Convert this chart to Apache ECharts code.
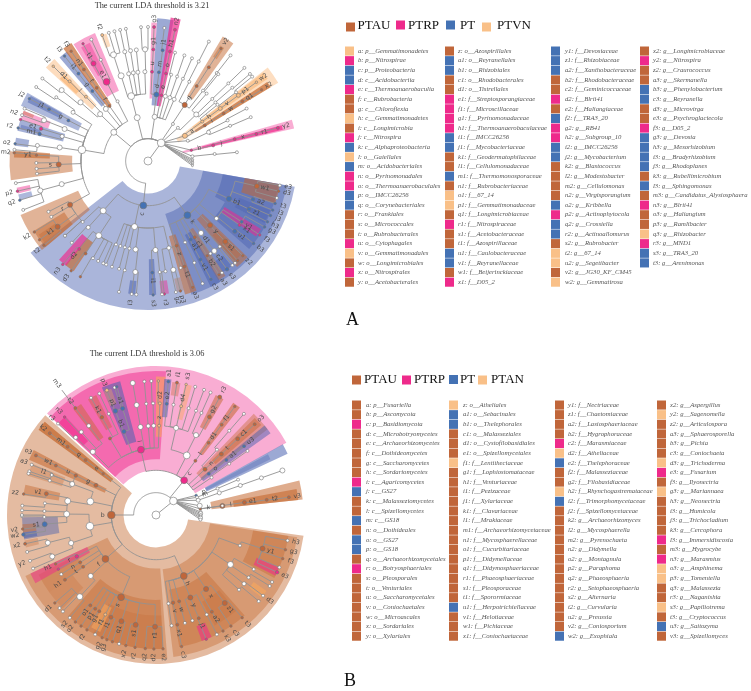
<!DOCTYPE html>
<html><head><meta charset="utf-8">
<style>html,body{margin:0;padding:0;background:#fff}#c{width:751px;height:691px}</style>
<script src="https://cdn.jsdelivr.net/npm/echarts@6/dist/echarts.min.js"></script>
</head><body><div id="c"></div>
<script>
const palette={a:'#C0663A',r:'#EE2A8B',b:'#4472B4',n:'#F9C088',w:'#ffffff'};
const shadePalette={a:'#C4682F',r:'#F0288C',b:'#4A62B0',n:'#F9A85C'};

function shift(n,d){return [n[0]+d,n[1],n[2],n[3],(n[4]||[]).map(k=>shift(k,d))];}

// each clade: [angle (deg, clockwise from top), colour key, node size, letter, children]
const phylumC_A=[186,'b',8,'c',[
 [144,'b',8,'k',[
  [115,'b',6,'b1',[
   [103,'a',5,'w1',[[100.5,'w',3,'e3'],[103,'a',2.5,'d3'],[106,'w',3,'']]],
   [110,'b',3.5,'a2',[[108.5,'b',2.5,'t3'],[111.5,'b',2.5,'i3']]],
   [115.5,'b',3.5,'z1',[[114,'b',2.5,'j3'],[117,'b',2.5,'h3']]]]],
  [130,'w',4,'',[
   [123,'b',3,'y1',[[119.5,'b',2.5,'g3']]],
   [125,'r',3,'x1',[[123.5,'r',2.5,'f3']]],
   [129,'b',4,'u1',[[128,'b',2.5,'b3']]]]],
  [136,'a',5,'y',[
   [136.2,'a',5,'s1',[[135,'a',2.5,'z2'],[138,'a',2.5,'']]],
   [140,'w',3,'',[[139.5,'w',3,'']]]]],
  [143.6,'w',6,'d1',[
   [143.6,'w',6,'c2',[[141,'w',3,''],[143.9,'b',3.5,'s3']]],
   [146,'w',3,'',[[146.5,'w',3,'']]]]],
  [148.5,'a',3,'c1',[[148,'a',2.5,'b2',[[148,'a',2.5,'a3']]]]],
  [151.5,'b',3,'a1',[[152,'b',3,'v1',[[152,'b',2.5,'c3']]]]],
  [155.5,'w',3,'',[[155.5,'w',3,'',[[156,'w',3,'']]]]],
  [161.3,'a',3,'z',[[161,'a',3,'t1',[[160.5,'a',2.5,'a3']]]]]]],
 [191.6,'w',7,'',[
  [166.5,'w',4,'',[[166.9,'w',5,'',[[166,'a',2.5,'p3'],[168,'w',3,'g2']]],[163,'w',3,''],[171,'w',3,'',[[173,'r',2.5,'r3']]]]],
  [175.2,'w',6,'',[[177.8,'b',3,'i1',[[177.8,'b',2.5,'s3']]],[174,'w',3,'',[[174,'w',3,'']]]]],
  [188,'w',5,'',[[186.5,'w',5,'',[[187,'w',3,'l3'],[185,'w',3,'']]]]],
  [192,'w',3,'',[[192,'w',3,'',[[192.5,'w',3,'']]]]],
  [195,'w',3,'',[[195,'w',3,'']]],
  [198,'w',3,'',[[198.8,'w',3,'']]],
  [201,'w',3,'',[[202,'w',3,'']]]]],
 [222,'w',7,'',[
  [213.4,'w',7,'',[[203.6,'w',3,''],[206.5,'w',3,''],[209.5,'w',3,'',[[210.3,'a',2.5,'']]],[214,'a',3,'',[[215,'a',2.5,'d3']]],[218,'r',3,'d2',[[219.5,'r',2.5,'n3']]]]],
  [222,'w',4,'',[[223,'w',3,'']]],
  [227,'w',3,'',[[228,'w',3,'']]]]]]];

const tailA=[
 [34,'w',3,'',[[33.2,'a',6,'g',[[33,'a',3,'',[[33,'a',3,'',[[33,'a',2.5,'v2']]]]],[27.5,'w',3,'',[[27,'w',3,'',[[27,'w',3,'']]]]],[38,'w',3,'',[[38,'w',3,'']]]]]]],
 [42,'w',3,'',[[46,'w',5,'',[[41,'w',3,'',[[39,'w',3,'',[[38,'w',3,'']]]]],[46,'w',3,'',[[46,'w',3,'',[[46,'w',3,'']]]]],[49,'w',3,'',[[49,'w',3,'',[[49.5,'w',3,'']]]]]]]]],
 [55.7,'n',5,'a',[
  [54,'n',3,'h',[[54,'n',4,'v',[[54,'n',4,'p1',[[54,'n',2.5,'w2']]]]],[51,'w',3,'',[[52,'w',3,'',[[51,'w',3,'']]]]]]],
  [57.9,'a',3,'i',[[57.8,'a',3,'w',[[57.7,'a',3,'q1',[[57.9,'a',2.5,'x2']]]]]]]]],
 [63,'w',3,'',[[64.6,'w',4,'',[[63,'w',3,'',[[62,'w',3,'']]],[66.8,'w',3,'',[[66.9,'w',3,'']]]]]]],
 [76,'r',2.5,'b',[[76.5,'r',3,'j',[[75.8,'r',3,'x',[[76,'r',3,'r1',[[75.7,'r',3,'y2']]]]]]]]],
 [84,'w',3,'',[[84,'w',3,'',[[84.4,'w',3,'']]]]],
 [88,'w',2,''],[90,'w',2,''],[92,'w',2,''],[94,'w',2,''],[96,'w',2,'']];

const phylaA=[phylumC_A,
 [310,'w',7,'',[
  [279.6,'w',9,'',[
   [240.7,'a',6,'r',[[243,'w',3,''],[240,'w',3,''],[234,'a',5,'k1',[[238,'a',2.5,'k2'],[234,'a',2.5,''],[231,'a',2.5,'t2']]],[228,'w',3,'']]],
   [255,'w',5,'',[[254.7,'w',6,'',[[260.5,'w',3,''],[257,'r',2.5,'p2'],[253,'b',2.5,'q2'],[248.6,'w',3,'']]]]],
   [267.8,'a',6,'s',[[273,'a',2.5,'y1',[[273.5,'a',2.5,'m2']]],[269,'w',3,''],[266,'w',3,''],[263.5,'w',3,'']]],
   [278.7,'w',5,'',[[278,'w',4,'',[[277.4,'b',2.5,'o2'],[274.8,'w',3,'']]]]],
   [286,'w',4,'',[[284,'b',3.5,'m1',[[284.3,'b',2.5,'r2']]],[286.8,'r',3.5,'e1',[[288,'r',2.5,'']]]]],
   [291,'w',5,'',[[291.4,'w',5,'',[[290,'w',3,'n2'],[293,'w',3,'']]]]],
   [297,'b',3,'g',[[297.6,'b',3,'j1',[[297.7,'b',2.5,'j2']]]]],
   [303,'w',4,'',[[304.8,'w',3,'',[[303.5,'w',3,'']]]]]]],
  [314.4,'w',6,'',[
   [311,'w',6,'',[[309.4,'w',5,'',[[308,'w',3,'']]]]],
   [316,'n',3,'l',[[315.5,'n',3,'d1',[[315,'n',2.5,'t2']]]]]]],
  [321,'w',5,'',[[321.5,'b',3,'g',[[321.5,'b',3,'i1',[[321.5,'b',2.5,'l3']]]]]]],
  [325,'a',3,'f',[[325,'a',3,'t',[[325,'a',3,'n1',[[325,'a',2.5,'f3']]]]]]],
  [333,'w',3,'',[[332.4,'r',8,'e1',[[330.8,'r',5,'t1',[[331,'r',2.5,'']]],[335,'w',3,'',[[335,'w',3,'']]]]]]]]],
 [346,'w',7,'',[
  [345.5,'w',8,'',[
   [342.5,'w',7,'',[[342,'w',7,'',[[340,'n',3,'f2'],[343,'w',3,''],[345.5,'w',3,'']]]]],
   [347.5,'w',4,'',[[348,'w',4,'',[[348,'w',3,'']]]]],
   [350.5,'w',4,'',[[351,'w',4,'',[[350.5,'w',3,'']]]]],
   [353.5,'w',4,'',[[354,'w',4,'']]],
   [358,'w',4,'',[[358.5,'w',6,'',[[357,'w',3,''],[360,'w',3,'']]]]]]]]],
 [368.6,'w',6,'',[
  [367.2,'b',5,'d',[
   [362.6,'r',3,'u',[[362.7,'r',3,'g1',[[362.6,'r',3,'g3']]]]],
   [367,'b',3,'m',[[367.5,'b',3,'j1',[[367,'w',3,'']]]]]]],
  [371.6,'r',3,'e',[[371.6,'r',3,'o',[[371.3,'r',3,'h1',[[371.6,'r',3,'n2']]]]]]],
  [375,'w',4,'',[[375,'w',3,'',[[374,'w',3,'']]]]],
  [379,'w',4,'',[[379,'w',3,'',[[379,'w',3,'']]]]],
  [383,'w',4,'',[[383,'w',3,'',[[383.2,'w',3,'']]]]]]]];
const kingdomA=[396,'w',9,'',phylaA.concat(tailA.map(t=>shift(t,360)))];

// background shading: [start, end, inner level, outer level, colour key, opacity]
const shadesA=[
 [100,232,1.45,6.67,'b',.47],[100,162,2.5,6.3,'b',.47],[100,118,3.4,5.95,'b',.47],[100,108.5,4.4,6,'a',.55],[112,118,4.4,5.9,'b',.35],
 [118,131,3.9,6,'b',.47],[121,125,4,5.9,'r',.55],[134,140,3.4,6.2,'a',.5],[135,139,4.4,5.9,'a',.35],[141.5,146,5.4,6,'b',.5],
 [146,149.5,3.6,6.2,'a',.45],[149,153.5,3.7,6.3,'b',.5],[159.5,164.5,3.5,6.2,'a',.55],[164.5,167.5,5.4,6,'a',.3],[171,174.5,5.4,6,'r',.45],
 [176.5,179.5,4.4,6,'b',.55],[185.5,188.5,5.4,6,'b',.55],[214,218.5,4.4,5.95,'a',.65],[218,222,4.4,5.95,'r',.65],
 [230,247,3.4,6.2,'a',.5],[230,238.5,4.4,6,'a',.5],[232,236,5,5.9,'a',.35],[253,255.5,5.4,6,'b',.45],[256,258.5,5.4,6,'r',.45],
 [262,274,3.4,6.2,'a',.5],[271.5,274.5,4.4,6,'a',.6],[276.5,280,5.4,6,'b',.5],[283,288,3.9,6,'b',.5],[284,286,5,5.9,'b',.4],[288,292,4.7,6,'r',.4],[290.5,292,5.5,6,'a',.4],
 [293.5,299.5,3.4,6.2,'b',.45],[296,299,4.4,6,'b',.5],[312.5,317.5,3.4,6.2,'n',.4],[313,316,4.4,5.4,'n',.5],[319.5,323.5,3.2,6.1,'b',.55],[323,327,3,6.3,'a',.7],
 [327.5,337.5,3.4,6.2,'r',.42],[329.5,333.8,4.4,5.9,'r',.4],[339.4,341.9,5.4,6,'n',.4],[361.4,363.7,2.8,6.2,'r',.4],[363.7,370.3,2.5,6.4,'b',.55],[369,373,2.5,6.5,'r',.7],
 [391,396,3.4,6.5,'a',.5],[392,394,5.5,6.1,'a',.4],[412,419,1.6,6.8,'n',.38],[412.5,415.5,2.5,6.5,'n',.45],[416.5,419,2.5,6.4,'a',.7],[434,437.5,1.6,6.7,'r',.38],[435,437,2.5,6.2,'r',.7]];

const phylumB_B=[270,'a',9,'b',[
 [308,'a',2.5,'e',[[308,'a',3,'q',[[307.7,'a',3,'m1',[[307.6,'a',3,'k2']]]]]]],
 [296.3,'a',4,'g',[[296.2,'a',3.5,'u',[[296.3,'a',3,'w1',[[296.4,'a',3,'o3']]],[291,'w',3,'',[[289,'w',3,'']]]]]]],
 [281.6,'w',8,'',[
  [290.3,'w',5,'',[[291,'w',3,'l1',[[292,'w',3,'a3']]],[288,'w',3,'',[[288,'w',3,'']]]]],
  [279,'w',7,'',[[281,'a',4,'v1',[[279,'a',2.5,'z2']]],[276,'w',3,'',[[274,'w',3,'']]],[272,'w',3,'',[[272,'w',3,'']]]]]]],
 [260.4,'w',9,'',[
  [270.6,'w',7,'',[[265.3,'b',5,'s1',[[269.5,'w',3,''],[264,'a',2.5,'v2'],[261.6,'b',3.5,'w2']]],[269,'w',3,'',[[270,'w',3,'']]]]],
  [251.7,'w',6,'',[[255.6,'w',5,'',[[257.6,'a',3,'x2'],[254,'w',3,'']]],[248.2,'w',5,'',[[250,'w',3,'y2'],[246.5,'w',3,'']]]]]]],
 [229,'a',8,'f',[
  [242.4,'r',3.5,'r',[[244,'a',2.5,'h1'],[241,'r',2.5,'']]],
  [238,'a',3,'n',[[238,'w',3,'']]],
  [234.6,'a',3,'t',[[234.6,'a',3,'h1']]],
  [227,'w',6,'',[[223,'w',7,'',[[229,'a',2.5,'d1'],[226,'w',3,''],[224,'w',3,''],[220,'w',3,'s2']]]]],
  [203,'a',8,'s',[
   [216,'a',3,'o1',[[217,'a',2.5,'o2']]],[213,'a',3,'p1',[[214,'a',2.5,'']]],[210.5,'a',3,'g1',[[211,'a',2.5,'f2']]],
   [207,'n',3,'f1',[[207,'w',3,'']]],[203.8,'a',4,'l1',[[203.7,'a',2.5,'g2'],[201.5,'a',2.5,'g3']]],
   [198,'a',5,'q1',[[196,'w',3,''],[199,'a',2.5,'']]],[190.5,'a',5,'s1',[[193,'a',2.5,'x2'],[189,'a',2.5,'r2']]],
   [180.5,'a',5,'r1',[[184.6,'a',2.5,'q2'],[180.9,'a',2.5,'d2'],[177,'a',2.5,'e2']]]]]]],
 [155.5,'a',8,'h',[
  [172,'w',3,'',[[172,'w',3,'']]],
  [169,'a',3.5,'v',[[169,'a',3,'x1',[[169,'a',2.5,'c3']]]]],
  [165,'a',3,'w',[[165,'w',3,'']]],
  [157.4,'a',5,'y',[[161,'w',3,''],[157.5,'a',3,'j1',[[158,'r',2.5,'']]],[153,'w',3,'',[[153,'w',3,'']]]]],
  [145.9,'a',6,'x',[[150,'a',3,'a2',[[150,'a',2.5,'k3']]],[142,'a',5,'z1',[[146,'a',2.5,'c3'],[140,'a',2.5,'t3']]]]],
  [123.6,'w',7,'',[[132,'w',3,'',[[130,'w',3,'']]],[128,'w',4,'',[[127,'w',3,'d3']]],[124,'w',3,'',[[122,'w',3,'']]],[119,'w',3,'',[[120,'w',3,'']]]]],
  [110,'w',3,'',[[107.5,'a',5,'y1',[[101,'w',3,'h3'],[105,'a',2.5,'g3'],[109,'a',2.5,'f3'],[113,'w',3,''],[115.3,'r',3.5,'e3']]]]]]]]];
const phylumC_B=[39,'r',8,'c',[
 [-13,'r',8,'i',[
  [-45,'w',6,'',[[-46,'w',4,'',[[-47,'w',3,'r3']]],[-42,'w',4,'',[[-43,'r',2.5,'n3']]],[-37,'w',4,'',[[-37,'a',3,'t2',[[-37,'a',2.5,'m3']]]]]]],
  [-31,'a',3,'',[[-29,'a',3.5,'k1',[[-29,'w',3,'']]],[-25,'w',3,'',[[-25,'w',3,'']]]]],
  [-21,'b',4,'b1',[[-21.3,'b',4.5,'p1',[[-21.5,'n',3.5,'p3'],[-18,'w',3,'']]],[-17.4,'b',4,'a1',[[-17,'b',2.5,'']]]]],
  [-10,'w',5,'',[[-10,'w',5,'',[[-10,'w',5,'']]]]],
  [-5,'w',4,'',[[-5,'w',3,'',[[-5,'w',3,'']]]]],
  [-1.5,'w',4,'',[[-1.5,'w',3,'',[[-2,'w',3,'']]]]],
  [2,'n',3,'z',[[2,'n',3,'d2',[[1,'n',2.5,'']]]]]]],
 [27.3,'w',8,'',[
  [13,'w',6,'',[[5.5,'b',3,'e2',[[5.3,'b',3,'a1']]],[9,'w',3,'',[[9,'a',3,'i1']]],[13,'n',3,'d4',[[13,'n',2.5,'s3']]],[17,'w',3,'',[[17,'w',3,'']]],[21,'w',3,'',[[21,'w',3,'']]]]],
  [26.6,'w',6,'',[[24,'w',3,'',[[24,'w',3,'']]],[28.6,'a',4,'g2',[[28.4,'a',4,'r3']]]]]]],
 [36,'a',3,'l',[[36,'a',3,'d1',[[36,'a',3,'f1',[[36,'a',2.5,'']]]]]]],
 [47,'a',4,'n',[[47,'a',4,'t',[[47,'a',4,'c1',[[47.4,'a',3,'o3']]]]],[43,'w',3,'',[[41,'w',3,'',[[41,'w',3,'']]]]]]],
 [52,'b',3,'o',[[52,'b',3,'a1',[[52,'b',3,'u3']]]]],
 [56,'w',3,'',[[55,'w',3,'',[[55,'w',3,'']]]]]]];
const tailB=[
 [64,'b',2.5,'p'],
 [66.7,'w',3,'m',[[66.7,'w',3,'',[[66.7,'w',3,'']]]]],
 [70.7,'w',4,'',[[70.7,'w',4,'',[[70.7,'w',4,'',[[70.6,'w',4,'',[[70.6,'w',5,'']]]]]]]]],
 [82.2,'a',2.5,'k',[[82.2,'a',5,'l',[[81.9,'a',4,'e1',[[82.2,'a',3,'t2',[[82.4,'a',3,'v3']]]]]]]]],
 [78,'w',5,'',[[82,'w',3,'']]],[86,'w',3,''],[88,'w',4,''],[90,'w',3,''],[92,'w',3,''],[94,'w',4,''],[96,'w',3,'']];
const kingdomB=[411,'w',9,'',[phylumB_B,shift(phylumC_B,360)].concat(tailB.map(t=>shift(t,360)))];

const shadesB=[
 [98,312,1.45,6.67,'a',.45],[313,421,2,6.67,'r',.38],[313,364,2.5,6.45,'r',.5],[420.8,425,2.5,6.5,'b',.55],[421.5,424,2.5,5.7,'b',.35],
 [436.5,444,2.5,6.6,'a',.55],[439.5,444,3.5,6.4,'a',.6],
 [99,173,2.45,6.4,'a',.4],[138.6,170,3.4,6,'a',.4],[99,118,4.4,6,'a',.4],[113,117,4.9,6,'r',.55],[124.5,128,5.3,6,'n',.6],[155.5,160,5.3,6,'r',.55],[140,152,4.4,5.6,'a',.25],
 [175.5,245,2.4,6.45,'a',.4],[177,221,3.8,6,'a',.4],[177,208,4.5,6,'a',.25],[205.5,210,4.6,5.8,'n',.55],[225,234,4.6,5.9,'a',.25],[234,243,4,5.9,'a',.3],[240.5,245,3.4,6.2,'r',.5],
 [293.5,298,2.5,6.2,'a',.55],[287,292.5,4.4,6,'a',.3],[278.5,283,4.4,6,'a',.45],[259.5,269,4.4,6,'b',.45],[262.5,266,5.4,6,'a',.45],[260,262.5,5.4,6,'b',.55],[256,259,5.4,6,'a',.3],[306,310,2.5,6.5,'a',.75],
 [313.5,317.5,4.5,6,'r',.6],[322,326,4.2,6,'a',.45],[329.5,333.5,4.4,6,'a',.4],[337,345,3.4,6.2,'b',.55],[337,340.5,5.3,6,'n',.35],[360,364,3.5,6.2,'n',.6],
 [363.5,366.5,4.4,6.1,'b',.55],[367,370.5,5.4,6,'a',.35],[372.5,375.5,4.4,6,'n',.45],[386.5,390.2,4.4,6,'a',.5],[394.5,398,3.4,6.1,'a',.55],[404,412.5,2.6,6.3,'a',.4],[405.5,409.5,3.5,6.2,'a',.45],[410.5,414.5,2.6,6.3,'b',.5]];

const legendA=[
 ['n a: p__Gemmatimonadetes','r b: p__Nitrospirae','b c: p__Proteobacteria','b d: c__Acidobacteriia','r e: c__Thermoanaerobaculia','a f: c__Rubrobacteria','a g: c__Chloroflexia','n h: c__Gemmatimonadetes','a i: c__Longimicrobia','r j: c__Nitrospira','b k: c__Alphaproteobacteria','n l: o__Gaiellales','b m: o__Acidobacteriales','r n: o__Pyrinomonadales','r o: o__Thermoanaerobaculales','b p: o__IMCC26256','b q: o__Corynebacteriales','a r: o__Frankiales','a s: o__Micrococcales','a t: o__Rubrobacterales','r u: o__Cytophagales','n v: o__Gemmatimonadales','a w: o__Longimicrobiales','r x: o__Nitrospirales','a y: o__Acetobacterales'],
 ['a z: o__Azospirillales','b a1: o__Reyranellales','b b1: o__Rhizobiales','a c1: o__Rhodobacterales','a d1: o__Tistrellales','r e1: f__Streptosporangiaceae','r f1: f__Microscillaceae','r g1: f__Pyrinomonadaceae','r h1: f__Thermoanaerobaculaceae','b i1: f__IMCC26256','b j1: f__Mycobacteriaceae','a k1: f__Geodermatophilaceae','a l1: f__Cellulomonadaceae','b m1: f__Thermomonosporaceae','a n1: f__Rubrobacteriaceae','n o1: f__67_14','n p1: f__Gemmatimonadaceae','a q1: f__Longimicrobiaceae','r r1: f__Nitrospiraceae','a s1: f__Acetobacteraceae','a t1: f__Azospirillaceae','b u1: f__Caulobacteraceae','b v1: f__Reyranellaceae','a w1: f__Beijerinckiaceae','r x1: f__D05_2'],
 ['b y1: f__Devosiaceae','b z1: f__Rhizobiaceae','b a2: f__Xanthobacteraceae','a b2: f__Rhodobacteraceae','a c2: f__Geminicoccaceae','r d2: f__Blrii41','a e2: f__Haliangiaceae','b f2: f__TRA3_20','r g2: g__RB41','r h2: g__Subgroup_10','b i2: g__IMCC26256','b j2: g__Mycobacterium','a k2: g__Blastococcus','a l2: g__Modestobacter','a m2: g__Cellulomonas','a n2: g__Virgisporangium','b o2: g__Kribbella','r p2: g__Actinophytocola','b q2: g__Crossiella','b r2: g__Actinoallomurus','a s2: g__Rubrobacter','n t2: g__67_14','n u2: g__Segetibacter','a v2: g__JG30_KF_CM45','n w2: g__Gemmatirosa'],
 ['a x2: g__Longimicrobiaceae','r y2: g__Nitrospira','a z2: g__Craurococcus','a a3: g__Skermanella','b b3: g__Phenylobacterium','b c3: g__Reyranella','a d3: g__Microvirga','a e3: g__Psychroglaciecola','r f3: g__D05_2','b g3: g__Devosia','b h3: g__Mesorhizobium','b i3: g__Bradyrhizobium','b j3: g__Rhodoplanes','a k3: g__Rubellimicrobium','b l3: g__Sphingomonas','a m3: g__Candidatus_Alysiosphaera','r n3: g__Blrii41','a o3: g__Haliangium','a p3: g__Ramlibacter','n q3: g__Rhizobacter','r r3: g__MND1','b s3: g__TRA3_20','b t3: g__Arenimonas']];
const legendB=[
 ['a a: p__Fusariella','a b: p__Ascomycota','r c: p__Basidiomycota','a d: c__Microbotryomycetes','a e: c__Archaeorhizomycetes','a f: c__Dothideomycetes','a g: c__Saccharomycetes','a h: c__Sordariomycetes','r i: c__Agaricomycetes','b j: c__GS27','a k: c__Malasseziomycetes','a l: c__Spizellomycetes','b m: c__GS18','a n: o__Dothideales','b o: o__GS27','b p: o__GS18','a q: o__Archaeorhizomycetales','r r: o__Botryosphaeriales','a s: o__Pleosporales','a t: o__Venturiales','a u: o__Saccharomycetales','a v: o__Coniochaetales','a w: o__Microascales','a x: o__Sordariales','a y: o__Xylariales'],
 ['n z: o__Atheliales','b a1: o__Sebacinales','b b1: o__Thelephorales','a c1: o__Malasseziales','a d1: o__Cystofilobasidiales','a e1: o__Spizellomycetales','n f1: f__Lentitheciaceae','a g1: f__Lophiostomataceae','a h1: f__Venturiaceae','a i1: f__Pezizaceae','a j1: f__Xylariaceae','a k1: f__Clavariaceae','a l1: f__Mrakiaceae','a m1: f__Archaeorhizomycetaceae','a n1: f__Mycosphaerellaceae','a o1: f__Cucurbitariaceae','a p1: f__Didymellaceae','a q1: f__Didymosphaeriaceae','a r1: f__Phaeosphaeriaceae','a s1: f__Pleosporaceae','a t1: f__Sporormiaceae','b u1: f__Herpotrichiellaceae','a v1: f__Helotiaceae','a w1: f__Pichiaceae','a x1: f__Coniochaetaceae'],
 ['a y1: f__Nectriaceae','a z1: f__Chaetomiaceae','a a2: f__Lasiosphaeriaceae','a b2: f__Hygrophoraceae','r c2: f__Marasmiaceae','n d2: f__Atheliaceae','b e2: f__Thelephoraceae','a f2: f__Malasseziaceae','a g2: f__Filobasidiaceae','n h2: f__Rhynchogastremataceae','b i2: f__Trimorphomycetaceae','a j2: f__Spizellomycetaceae','a k2: g__Archaeorhizomyces','a l2: g__Mycosphaerella','a m2: g__Pyrenochaeta','a n2: g__Didymella','a o2: g__Montagnula','a p2: g__Paraphoma','a q2: g__Phaeosphaeria','a r2: g__Setophaeosphaeria','a s2: g__Alternaria','a t2: g__Curvularia','a u2: g__Preussia','a v2: g__Coniosporium','b w2: g__Exophiala'],
 ['a x2: g__Aspergillus','n y2: g__Sagenomella','a z2: g__Articulospora','a a3: g__Sphaerosporella','a b3: g__Pichia','a c3: g__Coniochaeta','n d3: g__Trichoderma','r e3: g__Fusarium','a f3: g__Ilyonectria','n g3: g__Mariannaea','a h3: g__Neonectria','a i3: g__Humicola','a j3: g__Trichocladium','a k3: g__Cercophora','r l3: g__Immersidiscosia','a m3: g__Hygrocybe','r n3: g__Marasmius','n o3: g__Amphinema','n p3: g__Tomentella','a q3: g__Malassezia','a r3: g__Naganishia','n s3: g__Papiliotrema','a t3: g__Cryptococcus','b u3: g__Saitozyma','a v3: g__Spizellomyces']];
const groupsA=['PTAU','PTRP','PT','PTVN'];
const groupsB=['PTAU','PTRP','PT','PTAN'];
const groupKeys=['a','r','b','n'];
const titles=['The current LDA threshold is 3.21','The current LDA threshold is 3.06'];
const panelLetters=['A','B'];

// flatten a clade tree into nodes and edges
function flatten(top){
 const nodes=[{r:0,a:0,c:'w',s:8,l:''}],edges=[];
 (function walk(n,level,parent){
  const a=n[0];
  nodes.push({r:level,a:a,c:n[1],s:n[2]>=6?n[2]*0.85:n[2],l:n[3]});
  edges.push({r0:parent.r,a0:parent.a,r1:level,a1:a});
  (n[4]||[]).forEach(k=>walk(k,level+1,{r:level,a:a}));
 })(top,1,{r:0,a:top[0]});
 return {nodes,edges};
}
const treeA=flatten(kingdomA);
const treeB=flatten(kingdomB);

function pols(i,cx,cy){
 return {center:[cx,cy],radius:[0,149]};
}
const LINE='#929292';
function seriesFor(idx,tree,shades){
 const deg=Math.PI/180;
 return [
 {type:'custom',coordinateSystem:'polar',polarIndex:idx,silent:true,z:1,animation:false,
  data:shades.map(s=>[s[3],(s[0]+s[1])/2]),
  encode:{radius:0,angle:1},clip:false,
  renderItem(p,api){
   const s=shades[p.dataIndex];
   const c=api.coord([0,0]);
   const q0=api.coord([s[2],s[0]]),q1=api.coord([s[3],s[0]]);
   const rr0=Math.hypot(q0[0]-c[0],q0[1]-c[1]),rr1=Math.hypot(q1[0]-c[0],q1[1]-c[1]);
   return {type:'sector',shape:{cx:c[0],cy:c[1],r0:rr0,r:rr1,startAngle:(s[0]-90)*deg,endAngle:(s[1]-90)*deg,clockwise:true},
    style:{fill:shadePalette[s[4]],opacity:s[5]}};
  }},
 {type:'custom',coordinateSystem:'polar',polarIndex:idx,silent:true,z:2,animation:false,clip:false,
  data:tree.edges.map(e=>[e.r1,e.a1]),
  encode:{radius:0,angle:1},
  renderItem(p,api){
   const e=tree.edges[p.dataIndex];
   const pts=[];
   const straight=e.r0===0||(e.r0===1&&e.a1>e.a0);
   if(straight){pts.push(api.coord([e.r0,e.a0]),api.coord([e.r1,e.a1]));}
   else{
    const n=Math.max(1,Math.ceil(Math.abs(e.a1-e.a0)/2));
    for(let i=0;i<=n;i++)pts.push(api.coord([e.r0,e.a0+(e.a1-e.a0)*i/n]));
    pts.push(api.coord([e.r1,e.a1]));
   }
   return {type:'polyline',shape:{points:pts},style:{stroke:LINE,lineWidth:0.9,fill:null}};
  }},
 {type:'scatter',coordinateSystem:'polar',polarIndex:idx,silent:true,z:3,animation:false,
  data:tree.nodes.map(n=>[n.r,n.a]),
  symbolSize:(v,p)=>tree.nodes[p.dataIndex].s,
  itemStyle:{color:p=>palette[tree.nodes[p.dataIndex].c],borderColor:'#747474',borderWidth:0.6,opacity:1}},
 {type:'custom',coordinateSystem:'polar',polarIndex:idx,silent:true,z:4,animation:false,clip:false,
  data:tree.nodes.map(n=>[n.r,n.a]),
  encode:{radius:0,angle:1},
  renderItem(p,api){
   const n=tree.nodes[p.dataIndex];
   if(!n.l)return null;
   const q=api.coord([n.r+0.38,n.a]);
   const a=((n.a%360)+360)%360;
   const rot=(a<180?(90-a):(270-a))*deg;
   return {type:'text',x:q[0],y:q[1],rotation:rot,
    style:{text:n.l,fontSize:6.2,fontFamily:'DejaVu Sans',fill:'#4a4a4a',align:'center',verticalAlign:'middle'}};
  }}];
}

const gfx=[];
const serif='"Liberation Serif"';
function legendGraphics(cols,swX,txX,y0,groups,gx,tx,gy){
 cols.forEach((col,ci)=>col.forEach((e,ri)=>{
  const y=y0+ri*9.63;
  gfx.push({type:'rect',shape:{x:swX[ci],y:y-4.5,width:9,height:9.1},style:{fill:palette[e[0]]},silent:true});
  gfx.push({type:'text',x:txX[ci],y:y,style:{text:e.slice(2),fontFamily:serif,fontStyle:'italic',fontSize:6.7,fill:'#555',verticalAlign:'middle',align:'left'},silent:true});
 }));
 groups.forEach((g,i)=>{
  gfx.push({type:'rect',shape:{x:gx[i],y:gy[i]-4.5,width:9,height:9},style:{fill:palette[groupKeys[i]]},silent:true});
  gfx.push({type:'text',x:tx[i],y:gy[4],style:{text:g,fontFamily:serif,fontSize:13,fill:'#111',verticalAlign:'middle',align:'left'},silent:true});
 });
}
legendGraphics(legendA,[345,445,551,640],[358,458,565,653],51,groupsA,[346,396,446,482],[357.5,408,460,497],[27,25,25,27,26]);
legendGraphics(legendB,[352,449,555,657],[366,463,568,670],405,groupsB,[352,402,449,478],[364,414,460,491],[380,380,379.5,380,380]);
titles.forEach((t,i)=>gfx.push({type:'text',x:[152,147][i],y:[6,354][i],style:{text:t,fontFamily:serif,fontSize:8.3,fill:'#333',align:'center',verticalAlign:'middle'},silent:true}));
panelLetters.forEach((t,i)=>gfx.push({type:'text',x:[346,344][i],y:[320,681][i],style:{text:t,fontFamily:serif,fontSize:18,fill:'#111',align:'left',verticalAlign:'middle'},silent:true}));

const chart=echarts.init(document.getElementById('c'),null,{renderer:'canvas'});
chart.setOption({
 animation:false,backgroundColor:'#fff',
 polar:[pols(0,148,161),pols(1,156,515)],
 radiusAxis:[{polarIndex:0,type:'value',min:0,max:6.67,show:false},{polarIndex:1,type:'value',min:0,max:6.67,show:false}],
 angleAxis:[{polarIndex:0,type:'value',min:0,max:360,startAngle:90,show:false},{polarIndex:1,type:'value',min:0,max:360,startAngle:90,show:false}],
 series:seriesFor(0,treeA,shadesA).concat(seriesFor(1,treeB,shadesB)),
 graphic:{elements:gfx}
});
</script></body></html>
